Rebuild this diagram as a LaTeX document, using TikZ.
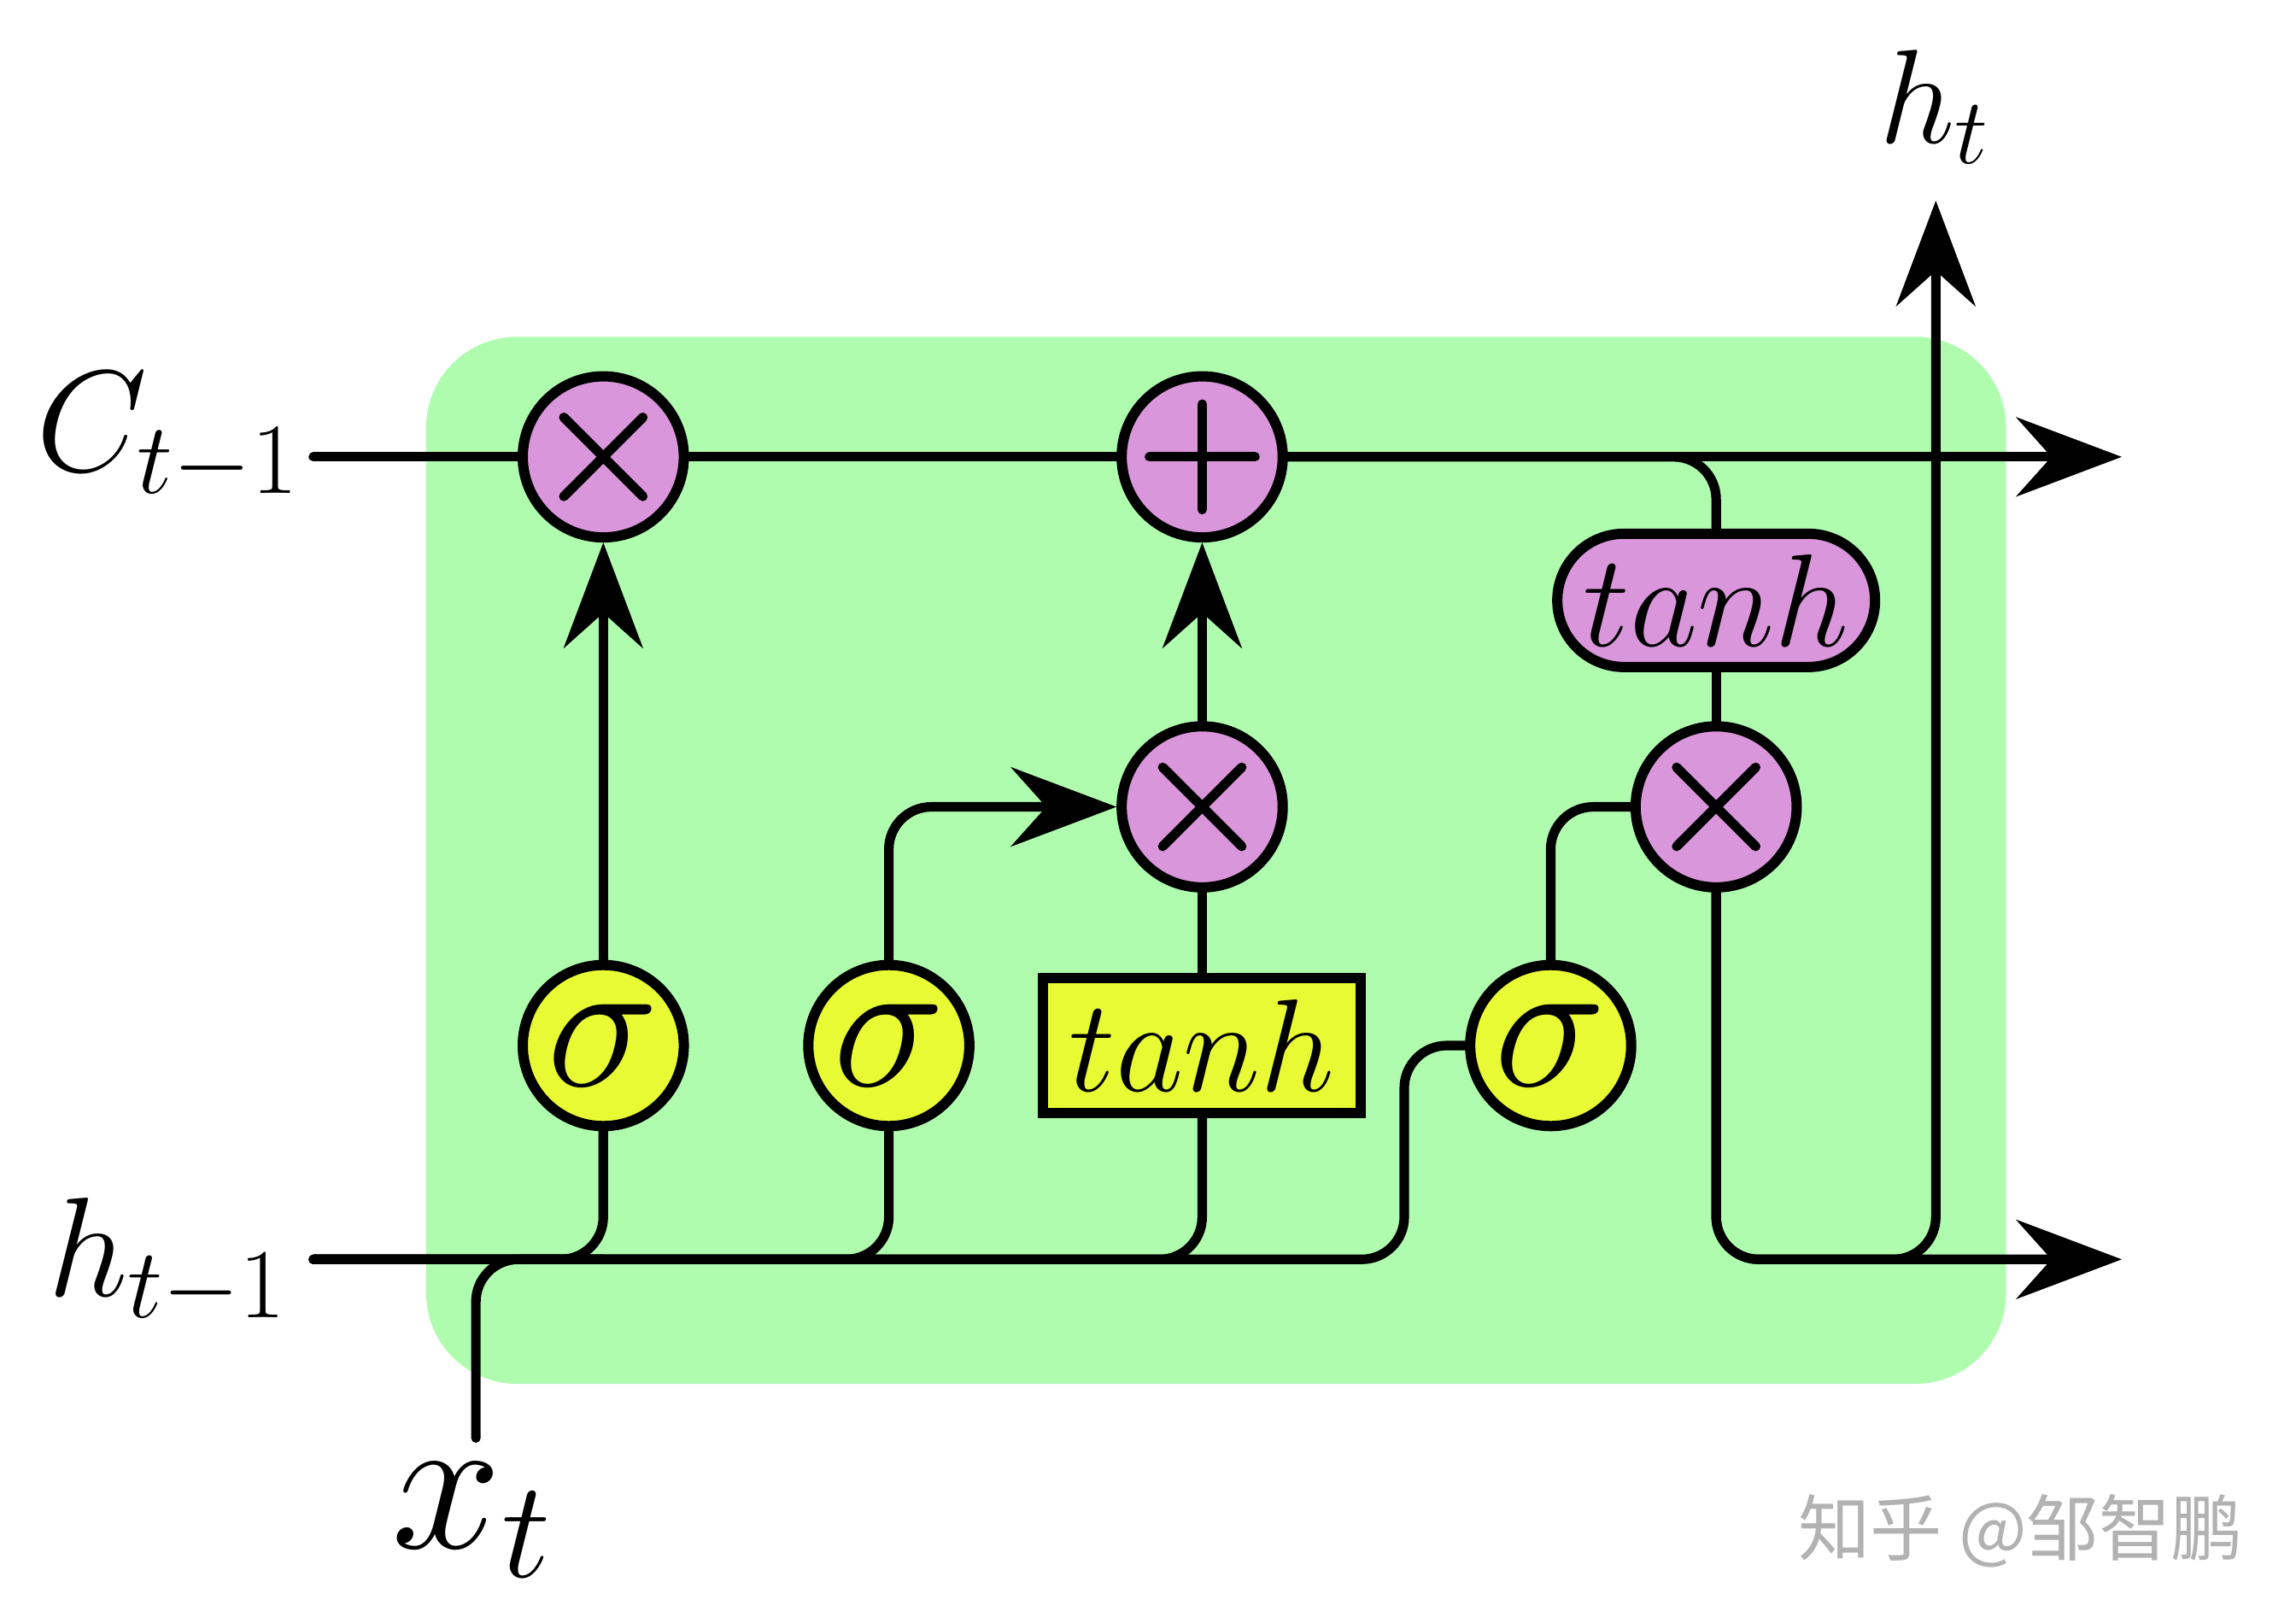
\RequirePackage{fix-cm}
\documentclass[tikz,border=0pt]{standalone}
\usepackage{fontspec}
\newfontfamily\cjkfont{Noto Sans CJK SC}
\usetikzlibrary{arrows.meta}

\definecolor{cellgreen}{RGB}{175,252,175}
\definecolor{oppink}{RGB}{218,150,218}
\definecolor{gateyellow}{RGB}{232,250,52}

\tikzset{
  wire/.style={line width=0.065cm, line cap=round, line join=round},
  flow/.style={wire, -{Stealth[length=0.72cm, width=0.54cm, inset=0.24cm]}},
  joint/.style={rounded corners=0.29cm},
  pointop/.style={circle, draw, line width=0.07cm, fill=oppink, minimum size=1.10cm, inner sep=0pt},
  mulop/.style={pointop, path picture={
      \draw[wire] ([shift={(-0.27,-0.27)}]path picture bounding box.center)
        -- ([shift={(0.27,0.27)}]path picture bounding box.center)
        ([shift={(-0.27,0.27)}]path picture bounding box.center)
        -- ([shift={(0.27,-0.27)}]path picture bounding box.center);}},
  addop/.style={pointop, path picture={
      \draw[wire] ([xshift=-0.36cm]path picture bounding box.center)
        -- ([xshift=0.36cm]path picture bounding box.center)
        ([yshift=-0.36cm]path picture bounding box.center)
        -- ([yshift=0.36cm]path picture bounding box.center);}},
  sigmagate/.style={circle, draw, line width=0.07cm, fill=gateyellow, minimum size=1.10cm,
    inner sep=0pt, font=\fontsize{36.7}{44}\selectfont},
  tanhgate/.style={rectangle, draw, line width=0.07cm, fill=gateyellow, minimum width=2.17cm,
    minimum height=0.92cm, inner sep=0pt, font=\fontsize{25.6}{30}\selectfont},
  tanhop/.style={rectangle, rounded corners=0.455cm, draw, line width=0.07cm, fill=oppink,
    minimum width=2.17cm, minimum height=0.91cm, inner sep=0pt, font=\fontsize{25.6}{30}\selectfont},
  varlabel/.style={inner sep=0pt, anchor=base west},
  wmark/.style={inner sep=0pt, text=black!30, font=\fontsize{14}{16}\selectfont}
}

\begin{document}
\begin{tikzpicture}
  \useasboundingbox (0,0) rectangle (15.68,11.08);
  % 1. Cell background
  \fill[cellgreen, rounded corners=0.62cm] (2.91,1.63) rectangle (13.70,8.78);

  % 2. Free ends of the wires
  \coordinate (cstart) at (2.14,7.96);
  \coordinate (cend)   at (14.49,7.96);
  \coordinate (hstart) at (2.14,2.48);
  \coordinate (hend)   at (14.49,2.48);
  \coordinate (xstart) at (3.25,1.26);
  \coordinate (htop)   at (13.22,9.71);
  \coordinate (ojog)   at (9.59,3.94);

  % 3. Pointwise operations
  \node[mulop] (fmul) at (4.12,7.96) {};
  \node[addop] (cadd) at (8.21,7.96) {};
  \node[mulop] (imul) at (8.21,5.57) {};
  \node[mulop] (omul) at (11.72,5.57) {};
  \node[tanhop] (ctanh) at (11.72,6.98) {$tanh$};

  % 4. Gates
  \node[sigmagate] (fgate) at (4.12,3.94) {$\sigma$};
  \node[sigmagate] (igate) at (6.07,3.94) {$\sigma$};
  \node[tanhgate]  (cand)  at (8.21,3.94) {$tanh$};
  \node[sigmagate] (ogate) at (10.59,3.94) {$\sigma$};

  % 5. Labels
  \node[varlabel, font=\fontsize{28}{34}\selectfont] (cin) at (0.24,7.86) {$C_{t-1}$};
  \node[varlabel, font=\fontsize{27.5}{33}\selectfont] (hin) at (0.32,2.23) {$h_{t-1}$};
  \node[varlabel, font=\fontsize{26}{31}\selectfont] (hout) at (12.83,10.10) {$h_t$};
  \node[varlabel, font=\fontsize{38.4}{46}\selectfont] (xin) at (2.67,0.51) {$x_t$};
  \node[wmark] (wm) at (13.80,0.625) {\cjkfont 知乎 @邹智鹏};

  % 6. Cell state
  \draw[wire] (cstart) -- (fmul);
  \draw[wire] (fmul) -- (cadd);
  \draw[flow] (cadd) -- (cend);

  % 7. Inputs to the gates
  \draw[wire, joint] (hstart) -| (fgate);
  \draw[wire, joint] (hstart) -| (igate);
  \draw[wire, joint] (hstart) -| (cand);
  \draw[wire, joint] (hstart) -| (ojog) -- (ogate);
  \draw[wire, joint] (xstart) |- (fgate |- hstart);

  % 8. Gates to operations
  \draw[flow] (fgate) -- (fmul);
  \draw[flow, joint] (igate) |- (imul);
  \draw[wire] (cand) -- (imul);
  \draw[flow] (imul) -- (cadd);
  \draw[wire, joint] (ogate) |- (omul);
  \draw[wire] (omul) -- (ctanh);
  \draw[wire, joint] (ctanh) |- (cadd);

  % 9. Outputs
  \draw[flow, joint] (omul) |- (hend);
  \draw[flow, joint] (omul) |- (htop |- hend) -- (htop);
\end{tikzpicture}
\end{document}
